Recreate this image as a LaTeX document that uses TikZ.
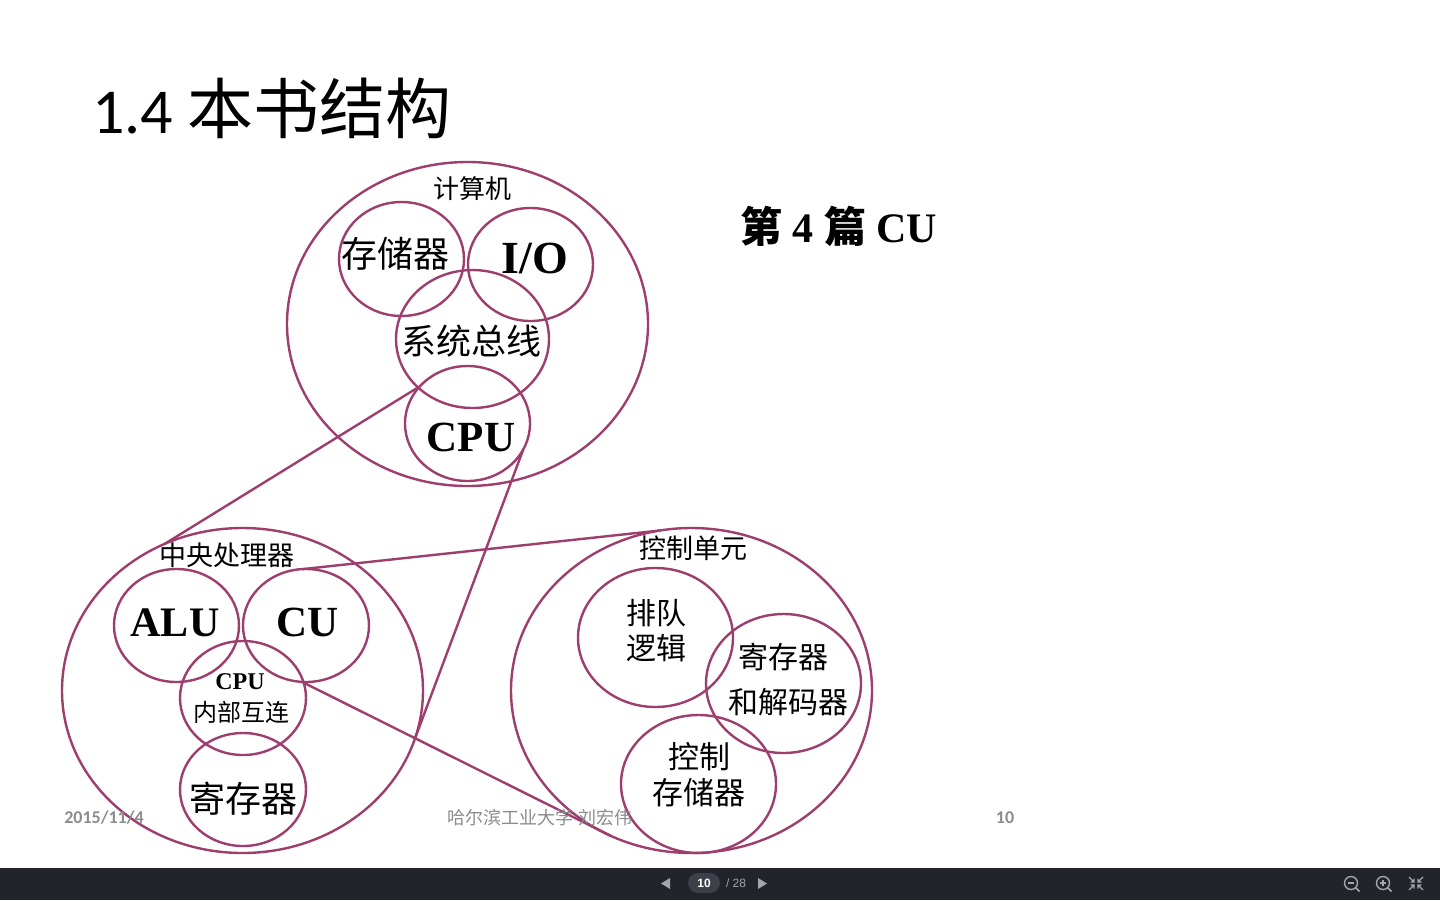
\documentclass[tikz,border=0pt]{standalone}
\usepackage{fontspec}
\setmainfont{Liberation Serif}
\newfontfamily\cjk{Noto Sans CJK SC}
\newfontfamily\carl{Carlito}
\newfontfamily\lsans{Liberation Sans}
\usetikzlibrary{shapes.geometric}
\definecolor{ringc}{RGB}{158,62,110}
\definecolor{barbg}{RGB}{34,35,43}
\definecolor{pillc}{RGB}{62,63,73}
\definecolor{footc}{RGB}{140,140,140}
\definecolor{iconc}{RGB}{165,165,172}
\newcommand\fsz[2]{\fontsize{#1}{#2}\selectfont}
\begin{document}
\begin{tikzpicture}[x=1pt,y=-1pt,
  ringsh/.style={draw=ringc, line width=2.4pt, ellipse, inner sep=0pt, outer sep=0pt},
  link/.style={draw=ringc, line width=2.4pt},
  lab/.style={inner sep=0pt, outer sep=0pt, align=center},
  foot/.style={inner sep=0pt, text=footc}]
\useasboundingbox (0,0) rectangle (1440,900);
\fill[white] (0,0) rectangle (1440,900);

% title
\node[lab, anchor=base west] (title) at (92,133) {\fsz{64}{64}\carl 1.4 {\fsz{66}{66}\cjk 本书结构}};
\node[lab, anchor=base west] (part) at (740,242) {\fsz{42}{42}\bfseries{\cjk\bfseries 第} 4 {\cjk\bfseries 篇} CU};

% top group
\node[ringsh, minimum width=361pt, minimum height=324pt] (comp) at (467.5,324) {};
\node[ringsh, minimum width=125pt, minimum height=114pt] (mem) at (401.5,259) {};
\node[ringsh, minimum width=125pt, minimum height=113pt] (io) at (530.5,264.5) {};
\node[ringsh, minimum width=153pt, minimum height=138pt] (bus) at (472.5,339) {};
\node[ringsh, minimum width=125pt, minimum height=115pt] (cpuT) at (467.5,423.5) {};
\node[lab] (tcomp) at (472,189) {\fsz{26}{26}\cjk 计算机};
\node[lab] (tmem) at (395,254) {\fsz{36}{36}\cjk 存储器};
\node[lab, anchor=base] (tio) at (535,273) {\fsz{46}{46}\bfseries I/O};
\node[lab] (tbus) at (471,341) {\fsz{35}{35}\cjk 系统总线};
\node[lab, anchor=base] (tcpu) at (471,451) {\fsz{43}{43}\bfseries CPU};

% bottom-left group
\node[ringsh, minimum width=361pt, minimum height=325pt] (cpuL) at (242.5,690.5) {};
\node[ringsh, minimum width=125pt, minimum height=113pt] (alu) at (176.5,625.5) {};
\node[ringsh, minimum width=126pt, minimum height=113pt] (cu) at (306,625.5) {};
\node[ringsh, minimum width=126pt, minimum height=114pt] (ic) at (243,698) {};
\node[ringsh, minimum width=126pt, minimum height=113pt] (reg) at (243,789.5) {};
\node[lab] (tcpuL) at (227,555) {\fsz{27}{27}\cjk 中央处理器};
\node[lab, anchor=base] (talu) at (175,636) {\fsz{42}{42}\bfseries ALU};
\node[lab, anchor=base] (tcu) at (308,636) {\fsz{43}{43}\bfseries CU};
\node[lab, anchor=base] (tic1) at (240,689) {\fsz{24}{24}\bfseries CPU};
\node[lab] (tic2) at (241,712) {\fsz{24}{24}\cjk 内部互连};
\node[lab] (treg) at (243,799) {\fsz{36}{36}\cjk 寄存器};

% bottom-right group
\node[ringsh, minimum width=361pt, minimum height=325pt] (ctrl) at (691.5,690.5) {};
\node[ringsh, minimum width=155pt, minimum height=139pt] (queue) at (655.5,637.5) {};
\node[ringsh, minimum width=155pt, minimum height=139pt] (rd) at (783.5,683.5) {};
\node[ringsh, minimum width=155pt, minimum height=138pt] (cs) at (698.5,784) {};
\node[lab] (tctrl) at (693,548) {\fsz{27}{27}\cjk 控制单元};
\node[lab] (tq1) at (656,613) {\fsz{30}{30}\cjk 排队};
\node[lab] (tq2) at (656,648) {\fsz{30}{30}\cjk 逻辑};
\node[lab] (trd1) at (783,657) {\fsz{30}{30}\cjk 寄存器};
\node[lab] (trd2) at (788,702) {\fsz{30}{30}\cjk 和解码器};
\node[lab] (tcs1) at (699,757) {\fsz{31}{31}\cjk 控制};
\node[lab] (tcs2) at (699,793) {\fsz{31}{31}\cjk 存储器};

% connectors
\draw[link] (cpuT.142) -- (cpuL.118);
\draw[link] (cpuT.-25) -- (cpuL.-16);
\draw[link] (cu.93) -- (ctrl.101);
\draw[link] (cu.-94) -- (ctrl.-119);

% footer
\node[foot] (fdate) at (104,818) {\fsz{18}{18}\carl\bfseries 2015/11/4};
\node[foot] (forg) at (540,818) {\fsz{18}{18}\cjk 哈尔滨工业大学 刘宏伟};
\node[foot] (fnum) at (1005,818) {\fsz{18}{18}\carl\bfseries 10};

% viewer bar
\fill[barbg] (0,868) rectangle (1440,900);
\fill[pillc, rounded corners=10pt] (688,873) rectangle (720,893);
\node[inner sep=0pt, text=white] (pg) at (704,883.5) {\fsz{12}{12}\lsans\bfseries 10};
\node[inner sep=0pt, text=iconc] (pgt) at (736,883.5) {\fsz{12}{12}\lsans / 28};
\fill[iconc] (670,878) -- (670,889) -- (661,883.5) -- cycle;
\fill[iconc] (758,878) -- (758,889) -- (767,883.5) -- cycle;
\draw[iconc, line width=1.4pt] (1351,883) circle (6.5);
\draw[iconc, line width=1.6pt] (1355.6,887.6) -- (1359.5,891.5);
\draw[iconc, line width=1.3pt] (1348,883) -- (1354,883);
\draw[iconc, line width=1.4pt] (1383,883) circle (6.5);
\draw[iconc, line width=1.6pt] (1387.6,887.6) -- (1391.5,891.5);
\draw[iconc, line width=1.3pt] (1380,883) -- (1386,883) (1383,880) -- (1383,886);
\begin{scope}[iconc, line width=1.3pt]
\draw (1409,877) -- (1414,882) (1414,878.5) -- (1414,882) -- (1410.5,882);
\draw (1423,877) -- (1418,882) (1418,878.5) -- (1418,882) -- (1421.5,882);
\draw (1409,890) -- (1414,885) (1414,888.5) -- (1414,885) -- (1410.5,885);
\draw (1423,890) -- (1418,885) (1418,888.5) -- (1418,885) -- (1421.5,885);
\end{scope}
\end{tikzpicture}
\end{document}
